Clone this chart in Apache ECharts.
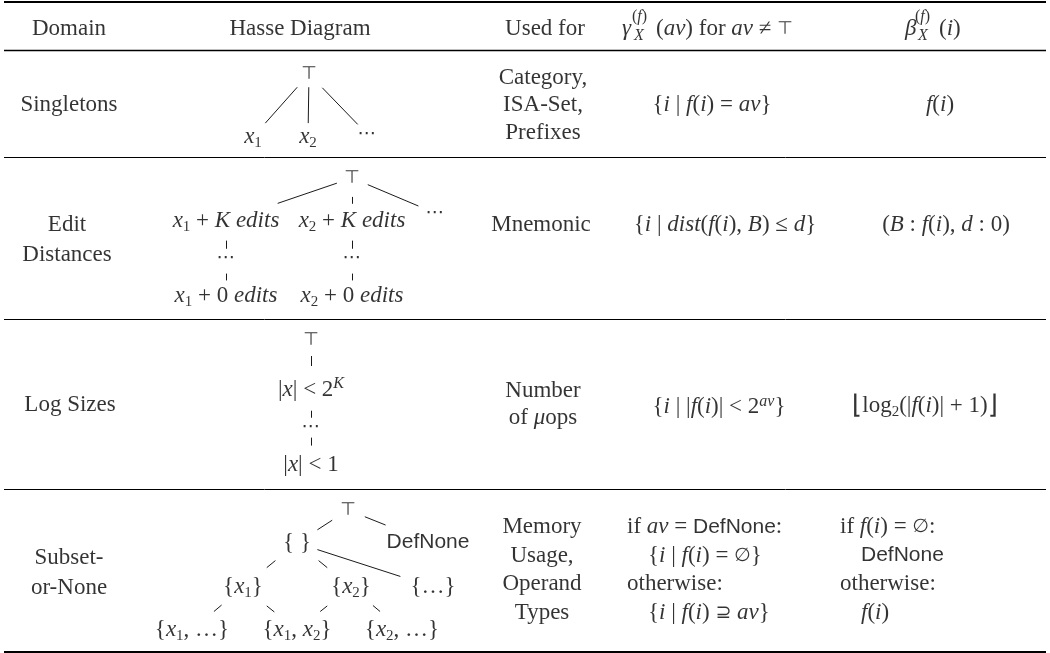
<!DOCTYPE html>
<html>
<head>
<meta charset="utf-8">
<style>
html, body { margin: 0; padding: 0; background: #fff; }
#main { width: 1050px; height: 653px; }
</style>
<script src="https://cdn.jsdelivr.net/npm/echarts@6/dist/echarts.min.js"></script>
</head>
<body>
<div id="main"></div>
<script>
// ---- table content ----
var headers = ['Domain', 'Hasse Diagram', 'Used for'];
var gammaHead = ['{i|γ}', '{h|(}{hi|f}{h|)}', '{hi|X}', '({i|av}) for {i|av} ≠ {top|⊤}'];
var betaHead = ['{i|β}', '{h|(}{hi|f}{h|)}', '{hi|X}', '({i|i})'];

var domains = ['Singletons', 'Edit\nDistances', 'Log Sizes', 'Subset-\nor-None'];
var usedFor = ['Category,\nISA-Set,\nPrefixes', 'Mnemonic', 'Number\nof {i|μ}ops', 'Memory\nUsage,\nOperand\nTypes'];
var gammaCells = [
    '{{i|i} | {i|f}({i|i}) = {i|av}}',
    '{{i|i} | {i|dist}({i|f}({i|i}), {i|B}) ≤ {i|d}}',
    '{{i|i} | |{i|f}({i|i})| < 2{pi|av}}',
    'if {i|av} = {sans|DefNone}:\n{ind| }{{i|i} | {i|f}({i|i}) = {m|∅}}\notherwise:\n{ind| }{{i|i} | {i|f}({i|i}) {m|⊇} {i|av}}'
];
var betaCells = [
    '{i|f}({i|i})',
    '({i|B} : {i|f}({i|i}), {i|d} : 0)',
    '{fl|⌊}log{s|2}(|{i|f}({i|i})| + 1){fl|⌋}',
    'if {i|f}({i|i}) = {m|∅}:\n{ind| }{sans|DefNone}\notherwise:\n{ind| }{i|f}({i|i})'
];

// hasse diagrams: node labels and edges [from, to, kind]
var hasseNodes = [
    ['{top|⊤}', '{i|x}{s|1}', '{i|x}{s|2}', '{m|⋯}'],
    ['{top|⊤}', '{i|x}{s|1} + {i|K edits}', '{i|x}{s|2} + {i|K edits}', '{m|⋯}', '{m|⋯}', '{m|⋯}',
        '{i|x}{s|1} + 0 {i|edits}', '{i|x}{s|2} + 0 {i|edits}'],
    ['{top|⊤}', '|{i|x}| < 2{pi|K}', '{m|⋯}', '|{i|x}| < 1'],
    ['{top|⊤}', '{ }', '{sans|DefNone}', '{{i|x}{s|1}}', '{{i|x}{s|2}}', '{…}',
        '{{i|x}{s|1}, …}', '{{i|x}{s|1}, {i|x}{s|2}}', '{{i|x}{s|2}, …}']
];
var hasseEdges = [
    [[0, 1, 'solid'], [0, 2, 'solid'], [0, 3, 'solid']],
    [[0, 1, 'solid'], [0, 2, 'dash'], [0, 3, 'solid'], [1, 4, 'dash'], [2, 5, 'dash'], [4, 6, 'dash'], [5, 7, 'dash']],
    [[0, 1, 'dash'], [1, 2, 'dash'], [2, 3, 'dash']],
    [[0, 1, 'solid'], [0, 2, 'solid'], [1, 3, 'solid'], [1, 4, 'solid'], [1, 5, 'solid'],
        [3, 6, 'solid'], [3, 7, 'solid'], [4, 7, 'solid'], [4, 8, 'solid']]
];

// ---- layout (page units) ----
var ruleY = [1.5, 50, 157, 319, 489, 651.5];
var ruleW = [2, 1.3, 1, 1, 1, 2];
var ruleX = [4, 1046];
var headY = 29;
var headX = [69, 300, 545];
var gammaHeadPos = [[622, 29], [632, 17], [634, 36], [656, 29]];
var betaHeadPos = [[905, 29], [915, 17], [918, 36], [939, 29]];
var domainPos = [[69, 105], [67, 240], [70, 405], [69, 573]];
var usedPos = [[543, 105], [541, 225], [543, 404], [542, 570]];
var gammaPos = [[712, 105], [725, 225], [719, 407], [627, 570]];
var betaPos = [[940, 105], [946, 225], [925, 406], [840, 570]];
var cellLineHeight = [27.5, 30, 27, 28.7];
var hasseLayout = [
    [[309, 74], [253, 137], [308, 137], [367, 134]],
    [[352, 178], [226, 221], [352, 221], [435, 213], [226, 258], [352, 258], [226, 296], [352, 296]],
    [[311, 340], [311, 390], [311, 427], [311, 465]],
    [[348, 510], [297, 543], [428, 542], [243, 587], [351, 587], [433, 587], [192, 630], [297, 630], [402, 630]]
];
var edgeTrim = [
    [[0.21, 0.78], [0.21, 0.78], [0.23, 0.84]],
    [[0.12, 0.59], [0.44, 0.6], [0.19, 0.8], [0.53, 0.75], [0.53, 0.75], [0.41, 0.59], [0.41, 0.59]],
    [[0.32, 0.52], [0.56, 0.75], [0.28, 0.49]],
    [[0.31, 0.6], [0.21, 0.47], [0.4, 0.56], [0.4, 0.56], [0.15, 0.76], [0.42, 0.57], [0.44, 0.58], [0.44, 0.57], [0.43, 0.57]]
];

var SERIF = '"Liberation Serif", "Times New Roman", serif';
var SANS = '"DejaVu Sans", sans-serif';

var rich = {
    i: {fontFamily: SERIF, fontStyle: 'italic', fontSize: 23, color: '#000'},
    s: {fontFamily: SERIF, fontSize: 15, color: '#000', verticalAlign: 'bottom', lineHeight: 10},
    pi: {fontFamily: SERIF, fontStyle: 'italic', fontSize: 16, color: '#000', verticalAlign: 'top', lineHeight: 10},
    h: {fontFamily: SERIF, fontSize: 16, color: '#000'},
    hi: {fontFamily: SERIF, fontStyle: 'italic', fontSize: 16, color: '#000'},
    top: {fontFamily: SANS, fontSize: 18, color: '#000'},
    sans: {fontFamily: '"Liberation Sans", sans-serif', fontSize: 21, color: '#000'},
    m: {fontFamily: SANS, fontSize: 19, color: '#000'},
    fl: {fontFamily: SANS, fontSize: 26, color: '#000'},
    ind: {fontFamily: SERIF, fontSize: 23, width: 21}
};

var texts = [];
function addText(pos, str, align, lh) {
    var item = {value: [pos[0], pos[1]], text: str, label: {}};
    if (align) item.label.align = align;
    if (lh) item.label.lineHeight = lh;
    texts.push(item);
}

headers.forEach(function (h, k) { addText([headX[k], headY], h); });
gammaHead.forEach(function (h, k) { addText(gammaHeadPos[k], h, 'left'); });
betaHead.forEach(function (h, k) { addText(betaHeadPos[k], h, 'left'); });

for (var r = 0; r < domains.length; r++) {
    addText(domainPos[r], domains[r], null, 30);
    addText(usedPos[r], usedFor[r], null, cellLineHeight[r]);
    addText(gammaPos[r], gammaCells[r], r === 3 ? 'left' : null, cellLineHeight[r]);
    addText(betaPos[r], betaCells[r], r === 3 ? 'left' : null, cellLineHeight[r]);
    hasseNodes[r].forEach(function (lbl, k) { addText(hasseLayout[r][k], lbl); });
}

var ruleLines = ruleY.map(function (y, k) {
    return {coords: [[ruleX[0], y], [ruleX[1], y]], lineStyle: {width: ruleW[k]}};
});

var edgeLines = [];
hasseEdges.forEach(function (edges, r) {
    edges.forEach(function (e, k) {
        var a = hasseLayout[r][e[0]], b = hasseLayout[r][e[1]];
        var t = edgeTrim[r][k];
        edgeLines.push({coords: [
            [a[0] + (b[0] - a[0]) * t[0], a[1] + (b[1] - a[1]) * t[0]],
            [a[0] + (b[0] - a[0]) * t[1], a[1] + (b[1] - a[1]) * t[1]]
        ]});
    });
});

var chart = echarts.init(document.getElementById('main'));
chart.setOption({
    animation: false,
    backgroundColor: '#fff',
    grid: {left: 0, right: 0, top: 0, bottom: 0},
    xAxis: {type: 'value', min: 0, max: 1050, show: false},
    yAxis: {type: 'value', min: 0, max: 653, inverse: true, show: false},
    series: [
        {
            type: 'lines',
            coordinateSystem: 'cartesian2d',
            silent: true,
            lineStyle: {color: '#000', width: 1, opacity: 1},
            data: ruleLines
        },
        {
            type: 'lines',
            coordinateSystem: 'cartesian2d',
            silent: true,
            lineStyle: {color: '#000', width: 0.9, opacity: 1},
            data: edgeLines
        },
        {
            type: 'scatter',
            silent: true,
            symbolSize: 0,
            itemStyle: {color: 'transparent'},
            label: {
                show: true,
                position: 'inside',
                color: '#000',
                fontFamily: SERIF,
                fontSize: 23,
                lineHeight: 28,
                textBorderWidth: 0,
                formatter: function (p) { return p.data.text; },
                rich: rich
            },
            data: texts
        }
    ]
});
</script>
</body>
</html>
